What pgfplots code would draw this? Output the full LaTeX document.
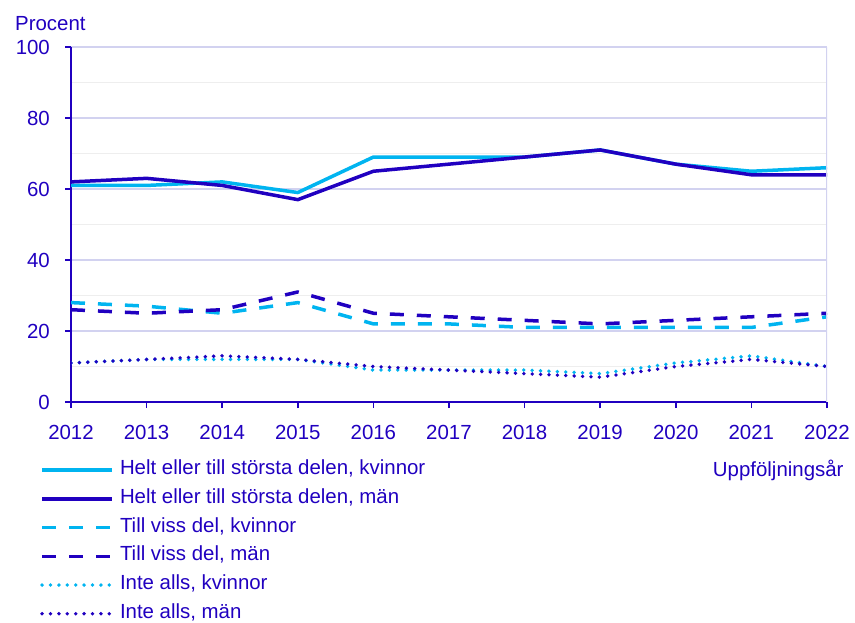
\documentclass[border=0pt]{standalone}
\usepackage{fontspec}
\setmainfont{Liberation Sans}
\usepackage{pgfplots}
\pgfplotsset{compat=1.18}

\definecolor{ljusbla}{RGB}{0,180,240}
\definecolor{morkbla}{RGB}{32,0,192}
\definecolor{lavendel}{RGB}{210,210,240}
\definecolor{ljusgra}{RGB}{238,238,238}

\begin{document}
\begin{tikzpicture}
\begin{axis}[
    at={(0,0)}, anchor=south west,
    scale only axis,
    width=756bp, height=355bp,
    xmin=2012, xmax=2022,
    ymin=0, ymax=100,
    xtick={2012,...,2022},
    ytick={0,20,...,100},
    minor ytick={10,30,...,90},
    /pgf/number format/1000 sep={},
    /pgf/number format/assume math mode=true,
    axis lines=left,
    axis line style={-, morkbla, line width=1.6bp},
    tick align=outside,
    major tick length=6bp,
    minor tick length=0bp,
    tick style={morkbla, line width=1.6bp},
    ymajorgrids, yminorgrids,
    major grid style={lavendel, line width=1.3bp},
    minor grid style={ljusgra, line width=1.3bp},
    font=\fontsize{20.5}{24}\selectfont,
    tick label style={text=morkbla},
    xticklabel style={anchor=base, inner sep=0pt, yshift=-31bp},
    yticklabel style={anchor=east, inner sep=0pt, xshift=-15bp},
    ylabel={Procent},
    xlabel={Uppföljningsår},
    every axis y label/.style={at={(axis description cs:-0.0785,1.047)}, anchor=base west, text=morkbla},
    every axis x label/.style={at={(axis description cs:1.0265,-0.2085)}, anchor=base east, text=morkbla},
    legend cell align=left,
    legend image code/.code={\draw[#1] (0bp,0bp) -- (70bp,0bp);},
    legend style={
        at={(axis description cs:-0.041,-0.1634)}, anchor=north west,
        draw=none, fill=none, inner sep=0pt,
        row sep=8.7bp, column sep=6bp, text=morkbla,
        nodes={inner sep=0pt, text height=14.5bp, text depth=5.5bp},
    },
    every axis plot/.append style={line width=3.5bp, line join=round},
]
\addplot[ljusbla] coordinates {
    (2012,61) (2013,61) (2014,62) (2015,59) (2016,69) (2017,69)
    (2018,69) (2019,71) (2020,67) (2021,65) (2022,66)
};
\addlegendentry{Helt eller till största delen, kvinnor}
\addplot[morkbla] coordinates {
    (2012,62) (2013,63) (2014,61) (2015,57) (2016,65) (2017,67)
    (2018,69) (2019,71) (2020,67) (2021,64) (2022,64)
};
\addlegendentry{Helt eller till största delen, män}
\addplot[ljusbla, dash pattern=on 14bp off 13bp] coordinates {
    (2012,28) (2013,27) (2014,25) (2015,28) (2016,22) (2017,22)
    (2018,21) (2019,21) (2020,21) (2021,21) (2022,24)
};
\addlegendentry{Till viss del, kvinnor}
\addplot[morkbla, dash pattern=on 14bp off 13bp] coordinates {
    (2012,26) (2013,25) (2014,26) (2015,31) (2016,25) (2017,24)
    (2018,23) (2019,22) (2020,23) (2021,24) (2022,25)
};
\addlegendentry{Till viss del, män}
\addplot[ljusbla, line width=3.8bp, line cap=round, dash pattern=on 0bp off 8.4bp] coordinates {
    (2012,11) (2013,12) (2014,12) (2015,12) (2016,9) (2017,9)
    (2018,9) (2019,8) (2020,11) (2021,13) (2022,10)
};
\addlegendentry{Inte alls, kvinnor}
\addplot[morkbla, line width=3.8bp, line cap=round, dash pattern=on 0bp off 8.4bp] coordinates {
    (2012,11) (2013,12) (2014,13) (2015,12) (2016,10) (2017,9)
    (2018,8) (2019,7) (2020,10) (2021,12) (2022,10)
};
\addlegendentry{Inte alls, män}
\draw[lavendel, line width=1.3bp] (axis cs:2022,0) -- (axis cs:2022,100);
\node[anchor=base west, inner sep=0pt, font=\fontsize{20.5}{24}\selectfont]
    at (axis description cs:-0.0785,1.1099) {examen)};
\end{axis}
\pgfresetboundingbox
\path[use as bounding box] (-71bp,-221bp) rectangle (784bp,402bp);
\end{tikzpicture}
\end{document}
